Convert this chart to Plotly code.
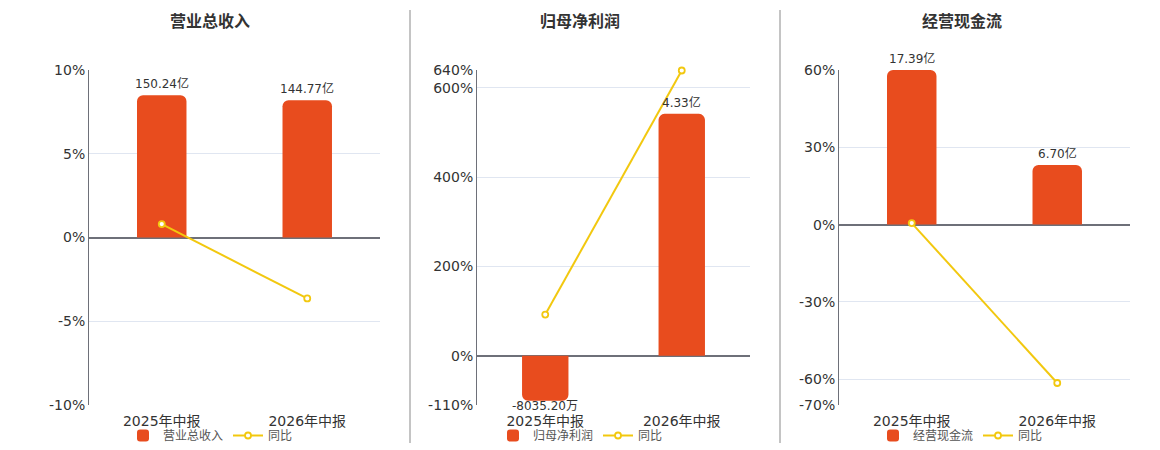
import plotly.graph_objects as go

# data
periods = ["2025年中报", "2026年中报"]
titles = ["营业总收入", "归母净利润", "经营现金流"]
values_yi = [[150.24, 144.77], [-0.803520, 4.33], [17.39, 6.70]]   # 亿
yoy_pct = [[0.80, -3.64], [92.4, 638.9], [0.60, -61.47]]
pct_ranges = [[-10, 10], [-110, 640], [-70, 60]]
pct_ticks = [[-10, -5, 0, 5, 10], [-110, 0, 200, 400, 600, 640], [-70, -60, -30, 0, 30, 60]]
bar_ranges = [[-176.8, 176.8], [-0.879, 5.115], [-20.29, 17.39]]

BAR_COLOR = "#e84c1e"
LINE_COLOR = "#f2c80f"
FONT = "DejaVu Sans, Noto Sans CJK SC, sans-serif"
W, H = 1160, 450

x_domains = [[89, 380], [477, 750], [839, 1130]]
y_domain = [1 - 405 / H, 1 - 70 / H]
legend_x = [123, 493, 873]
title_x = [210, 580, 962]


def fmt(v):
    if abs(v) < 1:
        return f"{v * 10000:.2f}万"
    return f"{v:.2f}亿"


fig = go.Figure()
layout = {}
for i in range(3):
    n = i + 1
    xa = "x" if n == 1 else f"x{n}"
    yb = f"y{2 * i + 1}" if i else "y"   # bars, hidden axis (drawn first)
    ya = f"y{2 * i + 2}"                 # percent axis, overlaying
    leg = "legend" if n == 1 else f"legend{n}"

    fig.add_trace(go.Bar(
        x=periods, y=values_yi[i], name=titles[i], xaxis=xa, yaxis=yb,
        marker=dict(color=BAR_COLOR, line=dict(width=0)), width=0.34,
        cliponaxis=False, legend=leg,
    ))
    fig.add_trace(go.Scatter(
        x=periods, y=yoy_pct[i], name="同比", xaxis=xa, yaxis=ya, mode="lines+markers",
        line=dict(color=LINE_COLOR, width=2),
        marker=dict(symbol="circle", size=6, color="white", line=dict(color=LINE_COLOR, width=1.8)),
        cliponaxis=False, legend=leg,
    ))

    # value labels at the bar ends
    for p, v in zip(periods, values_yi[i]):
        fig.add_annotation(
            x=p, y=v, xref=xa, yref=yb, text=fmt(v), showarrow=False,
            yanchor="bottom" if v >= 0 else "top", yshift=2 if v >= 0 else 4,
            font=dict(size=12, color="#333"),
        )

    xkey = "xaxis" if n == 1 else f"xaxis{n}"
    layout[xkey] = dict(
        domain=[x_domains[i][0] / W, x_domains[i][1] / W], anchor=yb,
        showgrid=False, showline=False, ticks="", tickfont=dict(size=14, color="#333"),
        ticklabelstandoff=6, fixedrange=True,
    )
    ykey = "yaxis" if i == 0 else f"yaxis{2 * i + 1}"
    layout[ykey] = dict(
        domain=y_domain, anchor=xa, range=bar_ranges[i], visible=False,
        showgrid=False, zeroline=False,
    )
    layout[f"yaxis{2 * i + 2}"] = dict(
        domain=y_domain, anchor=xa, overlaying=yb, side="left",
        range=pct_ranges[i], tickvals=pct_ticks[i],
        ticktext=[f"{t}%" for t in pct_ticks[i]], tickfont=dict(size=14, color="#333"),
        showgrid=True, gridcolor="#e0e6f1", gridwidth=1,
        zeroline=True, zerolinecolor="#6e7079", zerolinewidth=2,
        showline=True, linecolor="#6e7079", linewidth=1, ticks="", ticklen=0,
    )
    layout[leg] = dict(
        x=legend_x[i] / W, y=0, xanchor="left", yanchor="bottom",
        orientation="h", font=dict(size=12, color="#555"), bgcolor="rgba(0,0,0,0)",
        itemwidth=30, tracegroupgap=0,
    )

fig.update_layout(**layout)

for i in range(3):
    fig.add_annotation(
        text=f"<b>{titles[i]}</b>", x=title_x[i] / W, y=1 - 22 / H, xref="paper", yref="paper",
        xanchor="center", yanchor="middle", showarrow=False, font=dict(size=16, color="#333"),
    )

for xs in [410, 780]:
    fig.add_shape(type="line", xref="paper", yref="paper", x0=xs / W, x1=xs / W,
                  y0=1 - 443 / H, y1=1 - 10 / H, line=dict(color="#b0b0b0", width=1.5))

fig.update_layout(
    width=W, height=H, margin=dict(l=0, r=0, t=0, b=0, autoexpand=False),
    paper_bgcolor="white", plot_bgcolor="white",
    font=dict(family=FONT, color="#333"),
    barcornerradius=6, showlegend=True,
)

fig.write_html("out.html", config={"displayModeBar": False},
               post_script="document.body.style.margin='0px';")
